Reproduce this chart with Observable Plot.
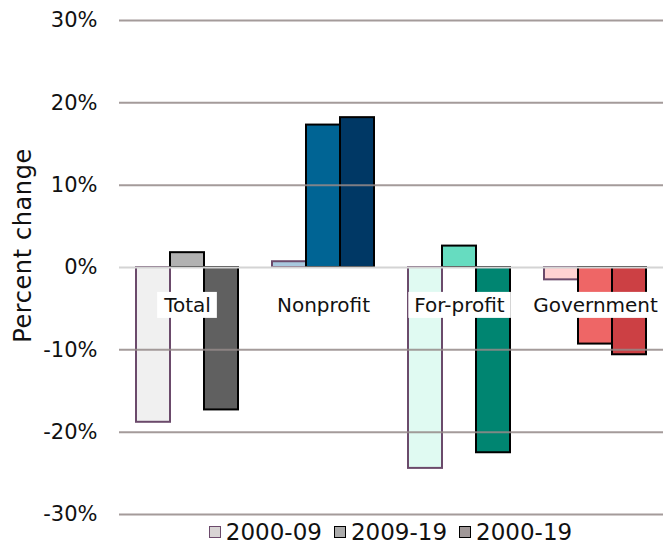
<!DOCTYPE html>
<html><head><meta charset="utf-8">
<script src="https://cdn.jsdelivr.net/npm/d3@7"></script>
<script src="https://cdn.jsdelivr.net/npm/@observablehq/plot@0.6"></script>
<style>
body{margin:0;background:#fff;font-family:"DejaVu Sans",sans-serif;color:#111;}
#chart svg{display:block;}
#legend{height:28px;display:flex;justify-content:center;align-items:center;padding-left:117px;font-size:23px;line-height:24px;}
#legend .item{display:flex;align-items:center;margin:0 6px;}
#legend .sw{width:10px;height:10px;border:1.8px solid #000;margin-right:5px;}
</style></head><body>
<div id="chart"></div><div id="legend"></div>
<script>
const categories = ["Total", "Nonprofit", "For-profit", "Government"];
const periods = ["2000-09", "2009-19", "2000-19"];
const totalValues = [-18.8, 1.8, -17.3];
const nonprofitValues = [0.7, 17.3, 18.2];
const forprofitValues = [-24.4, 2.6, -22.5];
const governmentValues = [-1.5, -9.3, -10.6];
const yTicks = [-30, -20, -10, 0, 10, 20, 30];

const seriesValues = [totalValues, nonprofitValues, forprofitValues, governmentValues];
const fillPalette = {
  "Total": ["#f0f0f0", "#b2b2b2", "#606060"],
  "Nonprofit": ["#a8c8de", "#006494", "#003865"],
  "For-profit": ["#e0faf2", "#66dcc0", "#008571"],
  "Government": ["#ffd2d2", "#ee6666", "#cc4044"]
};
const strokePalette = ["#6b4a6b", "#000", "#000"];
const legendFill = ["#d8d4d4", "#aaaaaa", "#a09898"];

const rows = categories.flatMap((c, i) => periods.map((p, j) => ({category: c, period: p, value: seriesValues[i][j]})));

const plot = Plot.plot({
  width: 664, height: 518,
  marginTop: 20, marginBottom: 4, marginLeft: 117, marginRight: 0,
  style: {fontFamily: "DejaVu Sans", fontSize: "21px", color: "#111", background: "#fff", overflow: "visible"},
  fx: {domain: categories, padding: 0, axis: null},
  x: {domain: periods, paddingInner: 0, paddingOuter: 0.48, axis: null},
  y: {domain: [-30, 30]},
  marks: [
    Plot.barY(rows, {
      fx: "category", x: "period", y: "value",
      fill: d => fillPalette[d.category][periods.indexOf(d.period)],
      stroke: d => strokePalette[periods.indexOf(d.period)],
      strokeWidth: 2
    }),
    Plot.ruleY(yTicks.filter(t => t !== 0), {stroke: "#948a88", strokeWidth: 2, strokeOpacity: 0.85}),
    Plot.ruleY([0], {stroke: "#d4d4d4", strokeWidth: 2}),
    Plot.text(categories, {fx: d => d, y: () => 0, text: d => d, dy: 38, fontSize: 20, fill: "#111", className: "catlabel"}),
    Plot.axisY({ticks: yTicks, tickSize: 0, tickPadding: 22, tickFormat: d => d + "%", fontSize: 21,
      label: "Percent change", labelAnchor: "center", labelArrow: "none", labelOffset: 106})
  ]
});
document.getElementById("chart").appendChild(plot);

// white boxes behind category labels
plot.querySelectorAll(".catlabel text").forEach(t => {
  const b = t.getBBox();
  const r = document.createElementNS("http://www.w3.org/2000/svg", "rect");
  r.setAttribute("x", b.x - 6);
  r.setAttribute("y", b.y - 1);
  r.setAttribute("width", b.width + 12);
  r.setAttribute("height", b.height + 2);
  r.setAttribute("fill", "#fff");
  const tr = t.getAttribute("transform");
  if (tr) r.setAttribute("transform", tr);
  t.parentNode.insertBefore(r, t);
});

// y-axis label: larger and nudged upward as in reference
const lab = plot.querySelector('[aria-label="y-axis label"]');
if (lab) {
  const tr = lab.getAttribute("transform") || "";
  lab.setAttribute("transform", "translate(0,-22) " + tr);
  lab.setAttribute("font-size", 24);
  lab.setAttribute("letter-spacing", "0.6");
}

const legend = d3.select("#legend");
periods.forEach((p, j) => {
  const it = legend.append("div").attr("class", "item");
  it.append("div").attr("class", "sw").style("background", legendFill[j]).style("border-color", strokePalette[j]);
  it.append("span").text(p);
});
</script>
</body></html>
